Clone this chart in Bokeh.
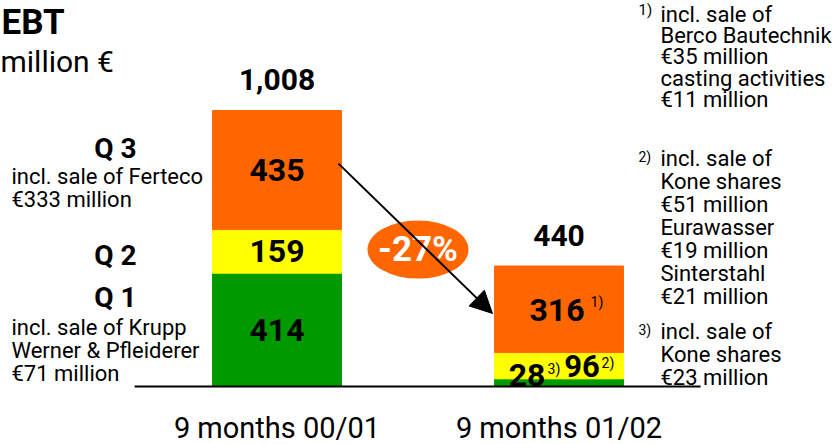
from bokeh.plotting import figure
from bokeh.models import Range1d, Label, Arrow, NormalHead, ColumnDataSource
from bokeh.core.properties import value
from bokeh.embed import file_html
from bokeh.resources import INLINE

# EBT by quarter, million EUR
periods = ["9 months 00/01", "9 months 01/02"]
q1 = [414, 28]
q2 = [159, 96]
q3 = [435, 316]
totals = [a + b + c for a, b, c in zip(q1, q2, q3)]
change_label = "-27%"

W, H = 836, 444
FONT = "Roboto"
ORANGE = "#FF6600"
YELLOW = "#FFFF00"
GREEN = "#009900"

xs = [0, 1]
BAR_W = 0.457
PERIOD_LABEL_Y = -151.6

p = figure(width=W, height=H,
           x_range=Range1d(-0.9805, 1.984), y_range=Range1d(-211.8, 1409.7),
           output_backend="svg", toolbar_location=None,
           x_axis_type=None, y_axis_type=None, min_border=0)
p.outline_line_color = None
p.xgrid.visible = False
p.ygrid.visible = False

src = ColumnDataSource(dict(x=xs, q1=q1, q2=q2, q3=q3))
p.vbar_stack(["q1", "q2", "q3"], x="x", width=BAR_W,
             color=[GREEN, YELLOW, ORANGE], source=src)

# baseline under the bars
p.line(x=[-0.505, 1.502], y=[0, 0], line_color="black", line_width=2)


def txt(x, y, text, size, bold=True, color="black", align="center",
        xo=0, yo=0):
    p.text(x=x, y=y, text=text, text_font=value(FONT),
           text_font_size=value(f"{size}px"),
           text_font_style="bold" if bold else "normal",
           text_color=color, text_align=align, text_baseline="middle",
           x_offset=xo, y_offset=yo)


# segment values, first period
mid1 = [v / 2 for v in q1]
mid2 = [a + b / 2 for a, b in zip(q1, q2)]
mid3 = [a + b + c / 2 for a, b, c in zip(q1, q2, q3)]
txt([xs[0]] * 3, [mid1[0], mid2[0], mid3[0]],
    [str(q1[0]), str(q2[0]), str(q3[0])], 32)

# second period: Q3 centred, Q1 and Q2 side by side at the bottom
txt([xs[1]], [mid3[1]], [str(q3[1])], 32, xo=-2, yo=1)
txt([xs[1]], [0], [str(q1[1])], 32, xo=-32, yo=-11.5)
txt([xs[1]], [q1[1]], [str(q2[1])], 31, xo=23, yo=-13)

# footnote markers
txt([xs[1]], [mid3[1]], ["1)"], 14, bold=False, align="left", xo=31.5, yo=-7)
txt([xs[1]], [0], ["3)"], 14, bold=False, align="left", xo=-11.5, yo=-17.5)
txt([xs[1]], [q1[1]], ["2)"], 14, bold=False, align="left", xo=42.5, yo=-16)

# totals on top
txt(xs, totals, [f"{t:,}" for t in totals], 30, yo=-31)

# period labels
txt(xs, [PERIOD_LABEL_Y] * 2, periods, 29, bold=False)

# change marker
p.add_layout(Arrow(end=NormalHead(size=22, fill_color="black", line_color="black"),
                   x_start=0.218, y_start=814, x_end=0.764, y_end=267,
                   line_width=2, line_color="black"))
p.ellipse(x=[0.5], y=[500], width=101, height=58,
          width_units="screen", height_units="screen",
          fill_color=ORANGE, line_color=None)
txt([0.5], [500], [change_label], 35, color="white")


def label(text, x, y_mid, size, bold=False, align="left"):
    p.add_layout(Label(x=x, y=H - y_mid, x_units="screen", y_units="screen",
                       text=text, text_font=FONT, text_font_size=f"{size}px",
                       text_font_style="bold" if bold else "normal",
                       text_align=align, text_baseline="middle",
                       text_color="black"))


def block(lines, x, first_mid, step, size=22):
    for i, line in enumerate(lines):
        label(line, x, first_mid + i * step, size)


label("EBT", 1, 21.5, 35, bold=True)
label("million €", 0, 61, 30)

label("Q 3", 115, 147.5, 28, bold=True, align="center")
block(["incl. sale of Ferteco", "€333 million"], 11, 176.2, 22.7)
label("Q 2", 115, 254.5, 28, bold=True, align="center")
label("Q 1", 115, 296.5, 28, bold=True, align="center")
block(["incl. sale of Krupp", "Werner & Pfleiderer", "€71 million"], 11, 327.2, 23)

label("1)", 638, 9.5, 15)
block(["incl. sale of", "Berco Bautechnik", "€35 million",
       "casting activities", "€11 million"], 660, 14.2, 21.1)
label("2)", 638, 156.5, 14)
block(["incl. sale of", "Kone shares", "€51 million", "Eurawasser",
       "€19 million", "Sinterstahl", "€21 million"], 660, 158.2, 22.9)
label("3)", 638, 329, 14)
block(["incl. sale of", "Kone shares", "€23 million"], 660, 330.5, 23.3)

open("out.html", "w").write(file_html(p, INLINE))
